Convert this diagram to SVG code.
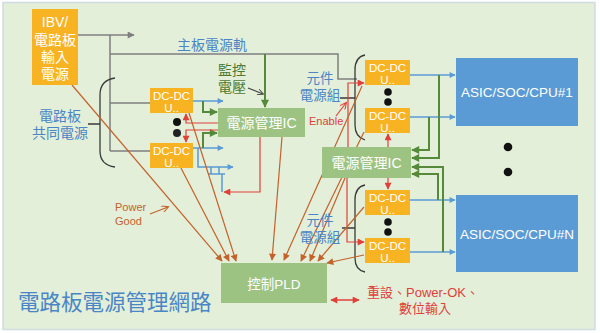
<svg xmlns="http://www.w3.org/2000/svg" width="600" height="333" viewBox="0 0 600 333">
<defs>
<style>
text{font-family:'Liberation Sans','Noto Sans CJK TC',sans-serif;}
.w{fill:#fff;text-anchor:middle;}
.bl{fill:#4a86c5;}
.org{fill:#f8b322;}
.grn{fill:#9dc383;}
.asic{fill:#5b9bd5;}
.gy{stroke:#7f7f7f;stroke-width:1.5;fill:none;}
.br{stroke:#c4622c;stroke-width:1.2;fill:none;marker-end:url(#mbr);}
.rd{stroke:#e0403a;stroke-width:1.2;fill:none;marker-end:url(#mrd);}
.bu{stroke:#5b9bd5;stroke-width:1.5;fill:none;}
.ga{stroke:#558a3a;stroke-width:2;fill:none;}
.bk{stroke:#3a3a3a;stroke-width:1.3;fill:none;}
</style>
<marker id="mgy" viewBox="0 0 10 10" refX="9" refY="5" markerWidth="9" markerHeight="7" orient="auto" markerUnits="userSpaceOnUse"><path d="M0,0L10,5L0,10z" fill="#7f7f7f"/></marker>
<marker id="mbu" viewBox="0 0 10 10" refX="9" refY="5" markerWidth="9" markerHeight="6" orient="auto" markerUnits="userSpaceOnUse"><path d="M0,0L10,5L0,10z" fill="#5b9bd5"/></marker>
<marker id="mga" viewBox="0 0 10 10" refX="9" refY="5" markerWidth="9" markerHeight="8" orient="auto" markerUnits="userSpaceOnUse"><path d="M0,0L10,5L0,10z" fill="#558a3a"/></marker>
<marker id="mgb" viewBox="0 0 10 10" refX="9" refY="5" markerWidth="11" markerHeight="8" orient="auto" markerUnits="userSpaceOnUse"><path d="M0,0L10,5L0,10z" fill="#558a3a"/></marker>
<marker id="mrd" viewBox="0 0 10 10" refX="9" refY="5" markerWidth="8" markerHeight="7" orient="auto-start-reverse" markerUnits="userSpaceOnUse"><path d="M0,0L10,5L0,10z" fill="#e0403a"/></marker>
<marker id="mbr" viewBox="0 0 10 10" refX="9" refY="5" markerWidth="9" markerHeight="7" orient="auto" markerUnits="userSpaceOnUse"><path d="M0,0L10,5L0,10z" fill="#c4622c"/></marker>
<marker id="mdk" viewBox="0 0 10 10" refX="9" refY="5" markerWidth="7" markerHeight="6" orient="auto" markerUnits="userSpaceOnUse"><path d="M0,0L10,5L0,10" fill="none" stroke="#444" stroke-width="1.5"/></marker>
<marker id="mor" viewBox="0 0 10 10" refX="9" refY="5" markerWidth="9" markerHeight="7" orient="auto" markerUnits="userSpaceOnUse"><path d="M0,0L10,5L0,10" fill="none" stroke="#c4622c" stroke-width="1.5"/></marker>
<marker id="mre" viewBox="0 0 10 10" refX="9" refY="5" markerWidth="9" markerHeight="7" orient="auto" markerUnits="userSpaceOnUse"><path d="M0,0L10,5L0,10" fill="none" stroke="#e0403a" stroke-width="1.5"/></marker>
</defs>
<rect x="0" y="0" width="600" height="333" fill="#ffffff"/>
<rect x="3" y="2.5" width="592" height="327" fill="#e3efd9" stroke="#cfdce2" stroke-width="1.5"/>

<g id="connectors">
  <!-- gray power lines -->
  <path class="gy" d="M78,35H134" marker-end="url(#mgy)"/>
  <path class="gy" d="M110,35V151M110,54H338V79H357M110,103H150M110,151H150"/>
  <path class="ga" d="M265,54V107" marker-end="url(#mga)"/>
  <!-- brackets -->
  <path class="bk" d="M115,78Q100,80 100,95V151Q100,165 115,167M88,124H100"/>
  <path class="bk" d="M365,55Q355,57 355,70V125Q355,137 365,140M340,98H355"/>
  <path class="bk" d="M365,185Q355,187 355,200V258Q355,270 365,272M342,228H355"/>
  <!-- blue outputs left -->
  <path class="bu" d="M192,101H223" marker-end="url(#mbu)"/>
  <path class="bu" d="M192,148H223" marker-end="url(#mbu)"/>
  <path class="bu" d="M198,148V167H233" marker-end="url(#mbu)"/>
  <path class="bu" d="M211,167V174M219,167V174M208,174H225M222,174V192"/>
  <!-- green sense left -->
  <path class="ga" d="M203,101V112H217" stroke-width="1.8" marker-end="url(#mga)"/>
  <path class="ga" d="M203,148V133H217" stroke-width="1.8" marker-end="url(#mga)"/>
  <!-- red enables left -->
  <path class="rd" d="M218,123H186V114"/>
  <path class="rd" d="M218,130H186V142"/>
  <path class="rd" d="M260,137V192H224"/>
  <!-- red enables right -->
  <path class="rd" d="M348,147V83H364"/>
  <path class="rd" d="M388,147V134"/>
  <path class="rd" d="M388,178V189"/>
  <path class="rd" d="M347,178V242H364"/>
  <!-- blue outputs right -->
  <path class="bu" d="M410,75H455" marker-end="url(#mbu)"/>
  <path class="bu" d="M410,117H455" marker-end="url(#mbu)"/>
  <path class="bu" d="M410,200H455" marker-end="url(#mbu)"/>
  <path class="bu" d="M410,252H455" marker-end="url(#mbu)"/>
  <!-- green sense right -->
  <path class="ga" d="M439,75V158H412" marker-end="url(#mgb)"/>
  <path class="ga" d="M429,117V150H412" marker-end="url(#mgb)"/>
  <path class="ga" d="M443,252V167H412" marker-end="url(#mgb)"/>
  <path class="ga" d="M438,200V174H412" marker-end="url(#mgb)"/>
  <!-- power good lines to PLD -->
  <path class="br" d="M72,85L222,261"/>
  <path class="br" d="M181,168L229,261"/>
  <path class="br" d="M189,113L236,261"/>
  <path class="br" d="M282,137L272,260"/>
  <path class="br" d="M362,86L284,260"/>
  <path class="br" d="M364,132L301,261"/>
  <path class="br" d="M345,178L310,261"/>
  <path class="br" d="M364,207L318,261"/>
  <path class="br" d="M364,255L327,263"/>
  <!-- small label arrows -->
  <path d="M248,88L263,94" stroke="#444" stroke-width="1.2" fill="none" marker-end="url(#mdk)"/>
  <path d="M150,214L168,207" stroke="#c4622c" stroke-width="1.2" fill="none" marker-end="url(#mor)"/>
  <path d="M336,116L346,103" stroke="#e0403a" stroke-width="1.2" fill="none" marker-end="url(#mre)"/>
  <path d="M331,300H359" stroke="#e0403a" stroke-width="1.5" fill="none" marker-start="url(#mrd)" marker-end="url(#mrd)"/>
</g>

<g id="ibv">
  <rect class="org" x="32" y="9" width="46" height="76"/>
  <text class="w" x="55" y="27" font-size="14">IBV/</text>
  <text class="w" x="55" y="45" font-size="14">電路板</text>
  <text class="w" x="55" y="62" font-size="14">輸入</text>
  <text class="w" x="55" y="79" font-size="14">電源</text>
</g>
<g id="dcdc-l1">
  <rect class="org" x="150" y="88" width="43" height="25"/>
  <text class="w" x="171.5" y="99.5" font-size="11.5">DC-DC</text>
  <text class="w" x="171.5" y="112" font-size="11.5">U..</text>
</g>
<g id="dcdc-l2">
  <rect class="org" x="150" y="143" width="43" height="25"/>
  <text class="w" x="171.5" y="154.5" font-size="11.5">DC-DC</text>
  <text class="w" x="171.5" y="167" font-size="11.5">U..</text>
</g>
<g id="dots-l">
  <circle cx="177" cy="122" r="4" fill="#111"/>
  <circle cx="177" cy="133" r="4" fill="#222"/>
</g>
<g id="pmic1">
  <rect class="grn" x="218" y="108" width="87" height="29"/>
  <text class="w" x="261.5" y="128" font-size="14">電源管理IC</text>
</g>
<g id="pmic2">
  <rect class="grn" x="322" y="147" width="89" height="31"/>
  <text class="w" x="366.5" y="168" font-size="14">電源管理IC</text>
</g>
<g id="dcdc-ra">
  <rect class="org" x="365" y="60" width="45" height="25"/>
  <text class="w" x="387.5" y="71.5" font-size="11.5">DC-DC</text>
  <text class="w" x="387.5" y="84" font-size="11.5">U..</text>
</g>
<g id="dcdc-rb">
  <rect class="org" x="365" y="108" width="45" height="25"/>
  <text class="w" x="387.5" y="119.5" font-size="11.5">DC-DC</text>
  <text class="w" x="387.5" y="132" font-size="11.5">U..</text>
</g>
<g id="dcdc-rc">
  <rect class="org" x="365" y="190" width="45" height="25"/>
  <text class="w" x="387.5" y="201.5" font-size="11.5">DC-DC</text>
  <text class="w" x="387.5" y="214" font-size="11.5">U..</text>
</g>
<g id="dcdc-rd">
  <rect class="org" x="365" y="238" width="45" height="25"/>
  <text class="w" x="387.5" y="249.5" font-size="11.5">DC-DC</text>
  <text class="w" x="387.5" y="262" font-size="11.5">U..</text>
</g>
<g id="dots-r">
  <circle cx="388" cy="92" r="3.8" fill="#111"/>
  <circle cx="388" cy="102" r="3.8" fill="#111"/>
  <circle cx="388" cy="222" r="3.8" fill="#111"/>
  <circle cx="388" cy="232" r="3.8" fill="#111"/>
  <circle cx="508" cy="147" r="4.3" fill="#111"/>
  <circle cx="508" cy="172" r="4.3" fill="#111"/>
</g>
<g id="asic1">
  <rect class="asic" x="456" y="58" width="122" height="68"/>
  <text class="w" x="517" y="97" font-size="13.5">ASIC/SOC/CPU#1</text>
</g>
<g id="asicn">
  <rect class="asic" x="456" y="195" width="122" height="77"/>
  <text class="w" x="517" y="239" font-size="13.5">ASIC/SOC/CPU#N</text>
</g>
<g id="pld">
  <rect class="grn" x="221" y="263" width="106" height="40"/>
  <text class="w" x="274" y="288.5" font-size="13.5">控制PLD</text>
</g>

<g id="labels">
  <text class="bl" x="177" y="50" font-size="14">主板電源軌</text>
  <text x="232" y="75" font-size="14" fill="#4c7a2e" text-anchor="middle">監控</text>
  <text x="232" y="92" font-size="14" fill="#4c7a2e" text-anchor="middle">電壓</text>
  <text class="bl" x="60" y="121" font-size="14" text-anchor="middle">電路板</text>
  <text class="bl" x="60" y="138" font-size="14" text-anchor="middle">共同電源</text>
  <text class="bl" x="320" y="83" font-size="13.5" text-anchor="middle">元件</text>
  <text class="bl" x="320" y="100" font-size="13.5" text-anchor="middle">電源組</text>
  <text class="bl" x="320" y="225" font-size="13.5" text-anchor="middle">元件</text>
  <text class="bl" x="320" y="242" font-size="13.5" text-anchor="middle">電源組</text>
  <text x="309" y="125" font-size="11" fill="#e0403a">Enable</text>
  <text x="115" y="211" font-size="11" fill="#c4622c">Power</text>
  <text x="115" y="225" font-size="11" fill="#c4622c">Good</text>
  <text x="423" y="297" font-size="13" fill="#e0403a" text-anchor="middle">重設、Power-OK、</text>
  <text x="425" y="313" font-size="13" fill="#e0403a" text-anchor="middle">數位輸入</text>
  <text class="bl" x="18" y="310" font-size="21.5">電路板電源管理網路</text>
</g>
</svg>
